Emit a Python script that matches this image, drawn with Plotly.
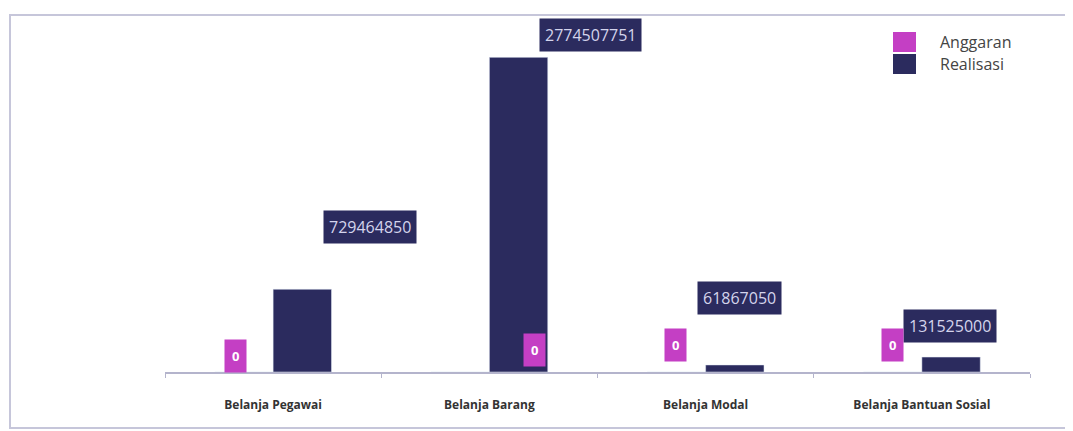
import plotly.graph_objects as go

categories = ["Belanja Pegawai", "Belanja Barang", "Belanja Modal", "Belanja Bantuan Sosial"]
anggaran = [0, 0, 0, 0]
realisasi = [729464850, 2774507751, 61867050, 131525000]
series_names = ["Anggaran", "Realisasi"]

# label offsets (pixels) - styling only
real_dx = [97, 101, 34, 28]
real_dy = [62, 22, 67, 31]
ang_dx = [-38, 45, -30, -29]
ang_dy = [16, 22, 27, 27]

MAG = "#c43fc4"
NAVY = "#2b2b5e"

OFF = 8  # page body margin
W, H = 1073 - OFF, 431 - OFF
L, R, T, B = 157, 43, 17, 59
pw = W - L - R
ph = H - T - B


def px(xw):
    return (xw - OFF - L) / pw


def py(yw):
    return (H - B - (yw - OFF)) / ph


fig = go.Figure()
fig.add_trace(go.Bar(name=series_names[0], x=categories, y=anggaran, marker_color=MAG))
fig.add_trace(go.Bar(name=series_names[1], x=categories, y=realisasi, marker_color=NAVY))

ann = []
for i, c in enumerate(categories):
    ann.append(dict(x=c, y=realisasi[i], xref="x", yref="y", text=str(realisasi[i]),
                    showarrow=False, xshift=real_dx[i], yshift=real_dy[i],
                    bgcolor=NAVY, borderpad=5,
                    font=dict(family="Open Sans", size=16, color="#d4d4ec")))
    ann.append(dict(x=c, y=anggaran[i], xref="x", yref="y", text="<b>" + str(anggaran[i]) + "</b>",
                    showarrow=False, xshift=ang_dx[i], yshift=ang_dy[i],
                    bgcolor=MAG, borderpad=7,
                    font=dict(family="Open Sans", size=13, color="#ffffff")))

# custom legend
leg_colors = [MAG, NAVY]
leg_y = [(32, 52), (54, 74)]
for name, col, (y0, y1) in zip(series_names, leg_colors, leg_y):
    fig.add_shape(type="rect", xref="paper", yref="paper",
                  x0=px(893), x1=px(916), y0=py(y1), y1=py(y0),
                  fillcolor=col, line=dict(width=0))
    ann.append(dict(x=px(938), y=py((y0 + y1) / 2), xref="paper", yref="paper",
                    text=name, showarrow=False, xanchor="left", yanchor="middle",
                    font=dict(family="Open Sans", size=16, color="#444444")))

fig.add_shape(type="rect", xref="paper", yref="paper",
              x0=px(10), x1=px(1080), y0=py(428), y1=py(15),
              line=dict(color="#c6c6da", width=2), layer="below")

fig.update_layout(
    width=W, height=H,
    margin=dict(l=L, r=R, t=T, b=B),
    paper_bgcolor="white", plot_bgcolor="white",
    barmode="group", bargap=0.46, bargroupgap=0,
    showlegend=False,
    annotations=ann,
    xaxis=dict(showline=True, linecolor="#b4b4cc", linewidth=1.5,
               ticks="outside", tickson="boundaries", ticklen=4, tickcolor="#b4b4cc",
               ticklabelstandoff=21,
               tickfont=dict(family="Open Sans", size=12, color="#333333", weight="bold")),
    yaxis=dict(range=[0, 3.06e9], visible=False, showgrid=False),
)

fig.write_html("out.html")
